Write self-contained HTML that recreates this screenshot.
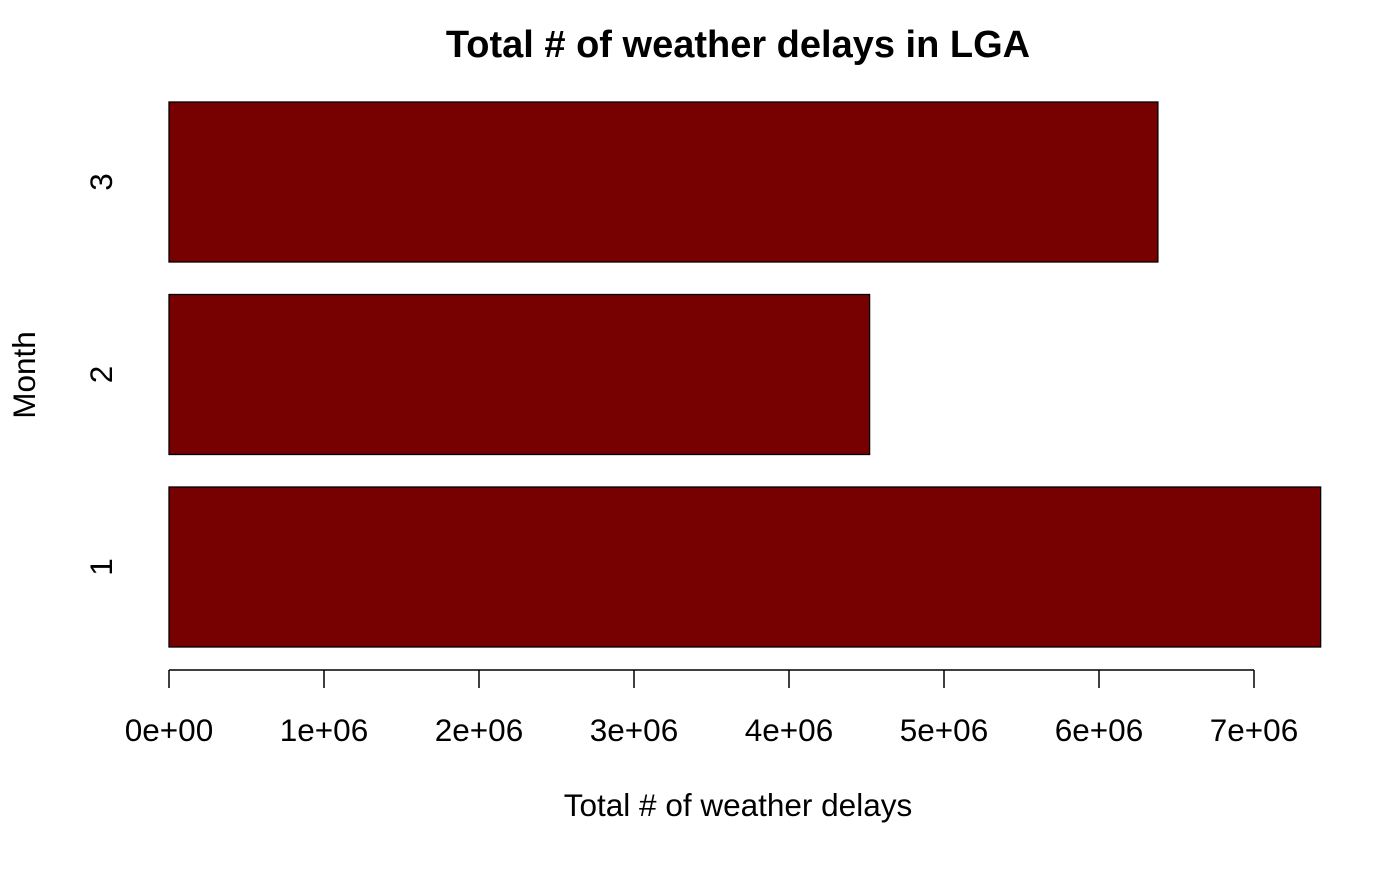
<!DOCTYPE html>
<html><head><meta charset="utf-8"><style>
html,body{margin:0;padding:0;background:#fff;}
svg text{font-family:"Liberation Sans",Arial,sans-serif;fill:#000;}
</style></head><body>
<svg id="chart" width="1400" height="865" viewBox="0 0 1400 865">
<text x="738" y="57" text-anchor="middle" font-size="38" font-weight="bold">Total # of weather delays in LGA</text>
<text x="738" y="816" text-anchor="middle" font-size="31.5">Total # of weather delays</text>
<text transform="translate(35,375) rotate(-90)" text-anchor="middle" font-size="31.5">Month</text>
<g id="bars"></g>
<g id="xaxis"></g>
<g id="yaxis"></g>
</svg>
<script>
const categories = ["1","2","3"];
const values = [7430000, 4520000, 6380000];
const tickValues = [0,1e6,2e6,3e6,4e6,5e6,6e6,7e6];
const tickLabels = ["0e+00","1e+06","2e+06","3e+06","4e+06","5e+06","6e+06","7e+06"];

const NS="http://www.w3.org/2000/svg";
const x0=169, pxPer=155/1e6;
function xs(v){return x0+v*pxPer;}
function ybar(i){return 487-i*192.5;}
const barH=160;
function mk(tag,attrs,parent){const e=document.createElementNS(NS,tag);for(const k in attrs)e.setAttribute(k,attrs[k]);parent.appendChild(e);return e;}
const bars=document.getElementById('bars'), xa=document.getElementById('xaxis'), ya=document.getElementById('yaxis');
values.forEach((v,i)=>{
  const r=mk('rect',{x:xs(0),y:ybar(i),width:xs(v)-xs(0),height:barH,fill:'#770000',stroke:'#000','stroke-width':1.3},bars);
  
  
  const cy=ybar(i)+barH/2;
  const t=mk('text',{transform:`translate(112,${cy}) rotate(-90)`,'text-anchor':'middle','font-size':31.5},ya);
  t.textContent=categories[i];
  
  
});
const al=mk('line',{x1:xs(tickValues[0]),x2:xs(tickValues[tickValues.length-1]),y1:670,y2:670,stroke:'#000','stroke-width':1.5},xa);


tickValues.forEach((v,i)=>{
  const l=mk('line',{x1:xs(v),x2:xs(v),y1:670,y2:688,stroke:'#000','stroke-width':1.5},xa);
  
  
  const t=mk('text',{x:xs(v),y:741,'text-anchor':'middle','font-size':31.5},xa);
  t.textContent=tickLabels[i];
  
  
});
</script>
</body></html>
